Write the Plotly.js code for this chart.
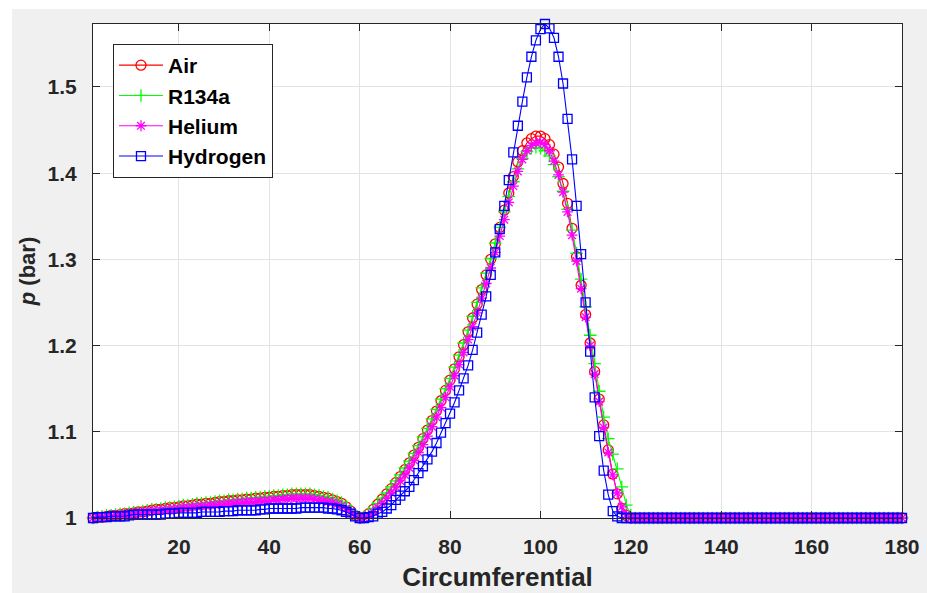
<!DOCTYPE html>
<html>
<head>
<meta charset="utf-8">
<script src="https://cdn.plot.ly/plotly-3.0.1.min.js"></script>
<style>
  html, body { margin: 0; padding: 0; background: #ffffff; }
  #plot { position: absolute; left: 12px; top: 9px; width: 915px; height: 584px; }
</style>
</head>
<body>
<div id="plot"></div>
<script>
// Circumferential position (degrees)
const circumferential = [
  1,2,3,4,5,6,7,8,9,10,11,12,13,14,15,16,17,18,19,20,
  21,22,23,24,25,26,27,28,29,30,31,32,33,34,35,36,37,38,39,40,
  41,42,43,44,45,46,47,48,49,50,51,52,53,54,55,56,57,58,59,60,
  61,62,63,64,65,66,67,68,69,70,71,72,73,74,75,76,77,78,79,80,
  81,82,83,84,85,86,87,88,89,90,91,92,93,94,95,96,97,98,99,100,
  101,102,103,104,105,106,107,108,109,110,111,112,113,114,115,116,117,118,119,120,
  121,122,123,124,125,126,127,128,129,130,131,132,133,134,135,136,137,138,139,140,
  141,142,143,144,145,146,147,148,149,150,151,152,153,154,155,156,157,158,159,160,
  161,162,163,164,165,166,167,168,169,170,171,172,173,174,175,176,177,178,179,180
];

// Pressure p (bar)
const air = [
  1.000,1.001,1.001,1.002,1.003,1.003,1.004,1.005,1.005,1.006,
  1.007,1.007,1.008,1.009,1.010,1.010,1.011,1.012,1.012,1.013,
  1.014,1.014,1.015,1.016,1.016,1.017,1.017,1.018,1.019,1.019,
  1.020,1.020,1.021,1.021,1.022,1.022,1.023,1.023,1.024,1.024,
  1.025,1.025,1.026,1.026,1.027,1.027,1.027,1.027,1.027,1.026,
  1.025,1.024,1.023,1.021,1.019,1.017,1.013,1.008,1.003,1.000,
  1.001,1.005,1.010,1.016,1.022,1.028,1.034,1.041,1.048,1.056,
  1.064,1.073,1.082,1.092,1.102,1.113,1.124,1.136,1.148,1.160,
  1.173,1.187,1.201,1.216,1.232,1.248,1.265,1.282,1.300,1.318,
  1.337,1.357,1.377,1.396,1.413,1.426,1.435,1.440,1.443,1.443,
  1.440,1.433,1.422,1.407,1.388,1.365,1.336,1.303,1.270,1.236,
  1.203,1.170,1.138,1.108,1.079,1.051,1.028,1.011,1.003,1.000,
  1.000,1.000,1.000,1.000,1.000,1.000,1.000,1.000,1.000,1.000,
  1.000,1.000,1.000,1.000,1.000,1.000,1.000,1.000,1.000,1.000,
  1.000,1.000,1.000,1.000,1.000,1.000,1.000,1.000,1.000,1.000,
  1.000,1.000,1.000,1.000,1.000,1.000,1.000,1.000,1.000,1.000,
  1.000,1.000,1.000,1.000,1.000,1.000,1.000,1.000,1.000,1.000,
  1.000,1.000,1.000,1.000,1.000,1.000,1.000,1.000,1.000,1.000
];

const r134a = [
  1.000,1.001,1.002,1.003,1.003,1.004,1.005,1.005,1.006,1.007,
  1.007,1.008,1.009,1.010,1.010,1.011,1.012,1.012,1.013,1.014,
  1.015,1.015,1.016,1.017,1.017,1.018,1.018,1.019,1.020,1.020,
  1.021,1.021,1.022,1.022,1.023,1.023,1.024,1.024,1.025,1.025,
  1.026,1.026,1.027,1.027,1.028,1.028,1.028,1.028,1.028,1.027,
  1.026,1.025,1.024,1.022,1.020,1.018,1.014,1.009,1.004,1.000,
  1.002,1.006,1.011,1.017,1.023,1.029,1.036,1.043,1.050,1.058,
  1.066,1.075,1.084,1.094,1.104,1.115,1.126,1.138,1.150,1.162,
  1.175,1.189,1.203,1.218,1.234,1.250,1.267,1.284,1.301,1.319,
  1.337,1.355,1.373,1.390,1.405,1.417,1.425,1.429,1.430,1.429,
  1.426,1.420,1.410,1.396,1.379,1.358,1.334,1.307,1.277,1.245,
  1.212,1.179,1.147,1.117,1.092,1.074,1.057,1.036,1.015,1.003,
  1.000,1.000,1.000,1.000,1.000,1.000,1.000,1.000,1.000,1.000,
  1.000,1.000,1.000,1.000,1.000,1.000,1.000,1.000,1.000,1.000,
  1.000,1.000,1.000,1.000,1.000,1.000,1.000,1.000,1.000,1.000,
  1.000,1.000,1.000,1.000,1.000,1.000,1.000,1.000,1.000,1.000,
  1.000,1.000,1.000,1.000,1.000,1.000,1.000,1.000,1.000,1.000,
  1.000,1.000,1.000,1.000,1.000,1.000,1.000,1.000,1.000,1.000
];

const helium = [
  1.000,1.001,1.001,1.002,1.002,1.003,1.003,1.004,1.004,1.005,
  1.006,1.006,1.007,1.008,1.008,1.009,1.009,1.010,1.010,1.011,
  1.012,1.012,1.013,1.013,1.014,1.014,1.015,1.015,1.016,1.016,
  1.017,1.017,1.018,1.018,1.019,1.019,1.019,1.020,1.020,1.020,
  1.021,1.021,1.022,1.022,1.023,1.023,1.023,1.023,1.023,1.022,
  1.021,1.020,1.019,1.018,1.016,1.014,1.011,1.007,1.003,1.000,
  1.000,1.003,1.007,1.012,1.017,1.023,1.029,1.036,1.043,1.050,
  1.058,1.067,1.076,1.085,1.095,1.106,1.117,1.128,1.140,1.152,
  1.165,1.178,1.192,1.207,1.222,1.238,1.255,1.272,1.290,1.308,
  1.327,1.346,1.366,1.385,1.402,1.416,1.426,1.432,1.435,1.436,
  1.433,1.426,1.414,1.398,1.378,1.355,1.328,1.298,1.266,1.233,
  1.200,1.167,1.135,1.105,1.076,1.050,1.029,1.013,1.004,1.000,
  1.000,1.000,1.000,1.000,1.000,1.000,1.000,1.000,1.000,1.000,
  1.000,1.000,1.000,1.000,1.000,1.000,1.000,1.000,1.000,1.000,
  1.000,1.000,1.000,1.000,1.000,1.000,1.000,1.000,1.000,1.000,
  1.000,1.000,1.000,1.000,1.000,1.000,1.000,1.000,1.000,1.000,
  1.000,1.000,1.000,1.000,1.000,1.000,1.000,1.000,1.000,1.000,
  1.000,1.000,1.000,1.000,1.000,1.000,1.000,1.000,1.000,1.000
];

const hydrogen = [
  1.000,1.001,1.001,1.001,1.002,1.002,1.002,1.002,1.003,1.004,
  1.004,1.004,1.004,1.004,1.004,1.004,1.005,1.005,1.005,1.006,
  1.006,1.006,1.006,1.006,1.007,1.007,1.007,1.007,1.007,1.008,
  1.008,1.008,1.009,1.009,1.009,1.009,1.009,1.010,1.010,1.011,
  1.011,1.011,1.011,1.011,1.011,1.011,1.012,1.012,1.012,1.012,
  1.012,1.012,1.011,1.011,1.010,1.009,1.007,1.005,1.002,1.000,
  1.000,1.001,1.002,1.005,1.007,1.011,1.015,1.021,1.026,1.031,
  1.036,1.044,1.052,1.060,1.068,1.077,1.087,1.099,1.110,1.121,
  1.134,1.148,1.162,1.177,1.195,1.215,1.236,1.257,1.282,1.308,
  1.335,1.362,1.392,1.424,1.455,1.483,1.511,1.535,1.554,1.567,
  1.573,1.568,1.557,1.535,1.504,1.463,1.416,1.362,1.306,1.250,
  1.193,1.140,1.095,1.055,1.027,1.008,1.002,1.000,1.000,1.000,
  1.000,1.000,1.000,1.000,1.000,1.000,1.000,1.000,1.000,1.000,
  1.000,1.000,1.000,1.000,1.000,1.000,1.000,1.000,1.000,1.000,
  1.000,1.000,1.000,1.000,1.000,1.000,1.000,1.000,1.000,1.000,
  1.000,1.000,1.000,1.000,1.000,1.000,1.000,1.000,1.000,1.000,
  1.000,1.000,1.000,1.000,1.000,1.000,1.000,1.000,1.000,1.000,
  1.000,1.000,1.000,1.000,1.000,1.000,1.000,1.000,1.000,1.000
];

const seriesNames = ['Air', 'R134a', 'Helium', 'Hydrogen'];
const xTickVals = [20, 40, 60, 80, 100, 120, 140, 160, 180];
const yTickVals = [1, 1.1, 1.2, 1.3, 1.4, 1.5];
const yTickText = ['1', '1.1', '1.2', '1.3', '1.4', '1.5'];

const FONT = 'Liberation Sans, Arial, Helvetica, sans-serif';
const AXC = '#262626';

function mk(name, y, color, symbol, size) {
  return {
    type: 'scatter', mode: 'lines+markers', name: name,
    x: circumferential, y: y,
    line: { color: color, width: 1.1 },
    marker: { symbol: symbol, size: size, color: color, line: { color: color, width: 1.3 } },
    cliponaxis: false
  };
}

const data = [
  mk(seriesNames[0], air, '#ff0000', 'circle-open', 10),
  mk(seriesNames[1], r134a, '#00ff00', 'cross-thin-open', 9),
  mk(seriesNames[2], helium, '#ff00ff', 'asterisk-open', 9),
  mk(seriesNames[3], hydrogen, '#0000ff', 'square-open', 9)
];

const layout = {
  width: 915, height: 584,
  paper_bgcolor: '#f0f0f0',
  plot_bgcolor: '#ffffff',
  margin: { l: 81, r: 25, t: 15, b: 75 },
  showlegend: true,
  xaxis: {
    range: [1, 180],
    tickvals: xTickVals,
    ticks: 'inside', ticklen: 7, tickwidth: 1, tickcolor: AXC,
    showline: true, linecolor: AXC, linewidth: 1, mirror: 'ticks',
    showgrid: true, gridcolor: '#e3e3e3', gridwidth: 1, zeroline: false,
    ticklabelstandoff: 10,
    tickfont: { family: FONT, size: 21, color: AXC, weight: 'bold' },
    title: { text: 'Circumferential', standoff: 10,
             font: { family: FONT, size: 26, color: AXC, weight: 'bold' } }
  },
  yaxis: {
    range: [1, 1.573],
    tickvals: yTickVals, ticktext: yTickText,
    ticks: 'inside', ticklen: 7, tickwidth: 1, tickcolor: AXC,
    showline: true, linecolor: AXC, linewidth: 1, mirror: 'ticks',
    showgrid: true, gridcolor: '#e3e3e3', gridwidth: 1, zeroline: false,
    ticklabelstandoff: 11,
    tickfont: { family: FONT, size: 21, color: AXC, weight: 'bold' },
    title: { text: '<i>p</i> (bar)', standoff: 5,
             font: { family: FONT, size: 22, color: AXC, weight: 'bold' } }
  },
  legend: {
    x: 0.0247, y: 0.9595, xanchor: 'left', yanchor: 'top',
    bgcolor: '#ffffff', bordercolor: AXC, borderwidth: 1,
    font: { family: FONT, size: 21, color: '#000000', weight: 'bold' },
    itemwidth: 44, tracegroupgap: 0
  }
};

Plotly.newPlot('plot', data, layout, { displayModeBar: false, staticPlot: true });
</script>
</body>
</html>
